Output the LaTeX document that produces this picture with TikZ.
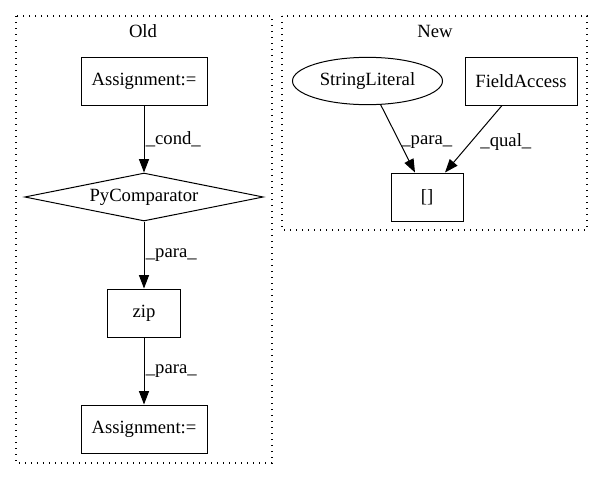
\documentclass[tikz,border=0pt]{standalone}
\usepackage{fontspec}
\setmainfont{Liberation Serif}
\usetikzlibrary{shapes.geometric,arrows.meta,calc}
\begin{document}
\begin{tikzpicture}[x=0.75pt,y=-0.75pt,
  every node/.style={font=\fontsize{14}{16}\selectfont},
  box/.style={draw,rectangle,minimum height=36pt,inner sep=0pt,line width=0.75pt},
  cluster/.style={draw,line width=0.8pt,dash pattern=on 0.9pt off 3.6pt},
  edge/.style={draw,line width=0.75pt,-{Triangle[length=10pt,width=7.5pt]}},
  elabel/.style={inner sep=1pt}]
\useasboundingbox (0,0) rectangle (604,480);
% clusters
\draw[cluster] (16,16) rectangle (272,463);
\draw[cluster] (282,16) rectangle (587,230);
\node (oldlbl) at (143,31) {Old};
\node (newlbl) at (435,31) {New};
% Old nodes
\node[box,minimum width=94.5pt] (a1) at (144,81) {Assignment:=};
\node[draw,diamond,shape aspect=5,minimum width=179pt,minimum height=36pt,inner sep=0pt,line width=0.75pt] (pc) at (144,197) {PyComparator};
\node[box,minimum width=54.75pt] (zip) at (144,313) {zip};
\node[box,minimum width=94.5pt] (a2) at (144,429) {Assignment:=};
% New nodes
\node[draw,ellipse,minimum width=112.5pt,minimum height=35.5pt,inner sep=0pt,line width=0.75pt] (sl) at (367.5,81) {StringLiteral};
\node[box,minimum width=84pt] (fa) at (521,81) {FieldAccess};
\node[box,minimum width=54pt] (br) at (427,197) {[]};
% edges Old
\draw[edge] (a1.south) -- node[elabel,anchor=west] {\_cond\_} (pc.north);
\draw[edge] (pc.south) -- node[elabel,anchor=west] {\_para\_} (zip.north);
\draw[edge] (zip.south) -- node[elabel,anchor=west] {\_para\_} (a2.north);
% edges New
\draw[edge] (sl.-61) -- node[elabel,anchor=west,pos=0.55] {\_para\_} ($(br.north)+(-12,0)$);
\draw[edge] ($(fa.south)+(-19,0)$) -- node[elabel,anchor=west,pos=0.55,xshift=6pt] {\_qual\_} ($(br.north)+(18,0)$);
\end{tikzpicture}
\end{document}
